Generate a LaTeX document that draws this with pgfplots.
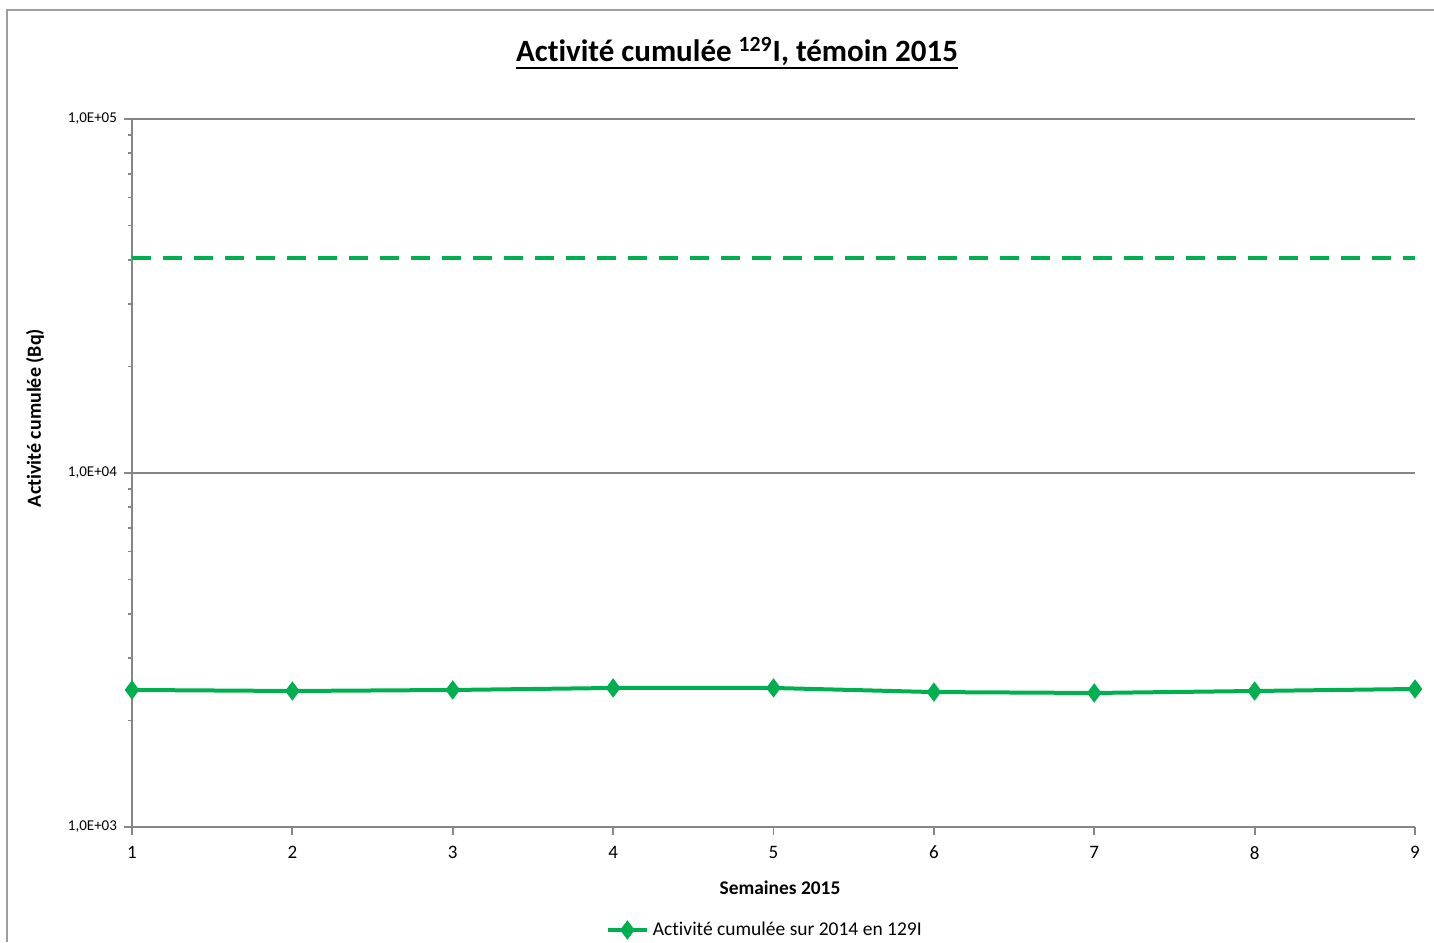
\documentclass[border=0pt]{standalone}
\usepackage{pgfplots}
\pgfplotsset{compat=1.18}
\usepackage{fontspec}
\setmainfont{Carlito}[Ligatures=NoCommon]
\definecolor{xlgreen}{HTML}{00B050}
\definecolor{xlgray}{HTML}{868686}
\begin{document}
\begin{tikzpicture}
\useasboundingbox (0pt,0pt) rectangle (717pt,471pt);
\draw[xlgray!80, line width=0.7pt] (3.5pt,0pt) -- (3.5pt,466pt) -- (717pt,466pt);
\begin{axis}[
  at={(66pt,57.5pt)}, anchor=south west,
  scale only axis, width=641.5pt, height=354pt,
  ymode=log, log basis y=10,
  xmin=1, xmax=9, ymin=1000, ymax=100000,
  xtick={1,2,3,4,5,6,7,8,9},
  xticklabels={1,2,3,4,5,6,7,8,9},
  ytick={1000,10000,100000},
  yticklabels={{1,0E+03},{1,0E+04},{1,0E+05}},
  minor ytick={2000,3000,4000,5000,6000,7000,8000,9000,20000,30000,40000,50000,60000,70000,80000,90000},
  axis x line*=bottom, axis y line*=left,
  axis line style={xlgray, line width=0.9pt, -},
  tick align=outside,
  major tick length=4pt, minor tick length=2.2pt,
  tick style={xlgray, line width=0.9pt},
  minor tick style={xlgray, line width=0.9pt},
  ymajorgrids, grid style={xlgray, line width=0.9pt},
  minor grid style={draw=none},
  x tick label style={font=\fontsize{9.5}{11}\selectfont, yshift=-2pt},
  y tick label style={font=\fontsize{7.5}{9}\selectfont},
  clip=false,
  legend style={at={(0.494,-0.1455)}, anchor=center, draw=none, fill=none,
    font=\fontsize{9.75}{11}\selectfont, legend cell align=left,
    /tikz/every even column/.append style={column sep=0pt}},
  legend image code/.code={
    \draw[#1, mark=none] (0pt,0pt) -- (19.5pt,0pt);
    \draw[#1, only marks] plot coordinates {(9.75pt,0pt)};
  },
]
\addplot[xlgreen, line width=2pt, dash pattern=on 9.5pt off 6pt, forget plot]
  coordinates {(1,40500) (2,40500) (3,40500) (4,40500) (5,40500) (6,40500) (7,40500) (8,40500) (9,40500)};
\addplot[xlgreen, line width=2pt, mark=diamond*, mark size=3.2pt, mark options={solid, fill=xlgreen}]
  coordinates {(1,2438) (2,2422) (3,2438) (4,2470) (5,2470) (6,2405) (7,2391) (8,2422) (9,2454)};
\addlegendentry{Activité cumulée sur 2014 en 129I}
\end{axis}
\node[font=\bfseries\fontsize{15.5}{18}\selectfont, anchor=base, inner sep=0pt] (t) at (368.5pt,440pt) {Activité cumulée \textsuperscript{129}I, témoin 2015};
\draw[line width=1.3pt] ([yshift=-3pt]t.base west) -- ([yshift=-3pt]t.base east);
\node[font=\bfseries\fontsize{10}{12}\selectfont, rotate=90] at (17.5pt,262pt) {Activité cumulée (Bq)};
\node[font=\bfseries\fontsize{9.7}{11}\selectfont] at (390pt,27pt) {Semaines 2015};
\end{tikzpicture}
\end{document}
